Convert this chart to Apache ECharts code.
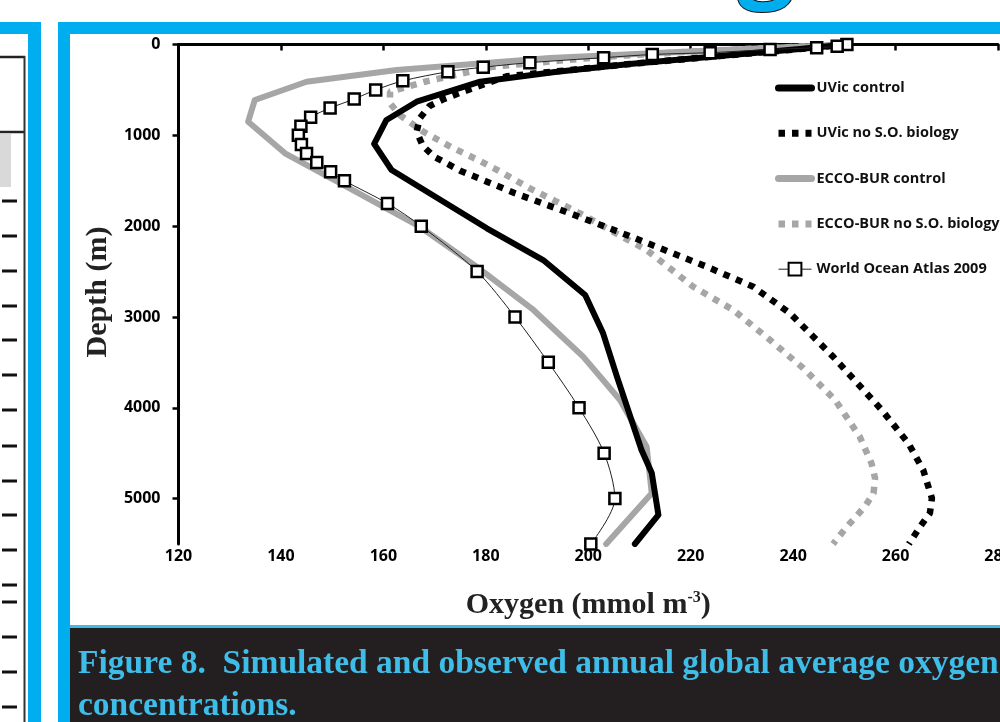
<!DOCTYPE html>
<html>
<head>
<meta charset="utf-8">
<script src="https://cdn.jsdelivr.net/npm/echarts@6/dist/echarts.min.js"></script>
<style>
  html, body { margin: 0; padding: 0; background: #fff; }
  #chart { width: 1000px; height: 722px; }
</style>
</head>
<body>
<div id="chart"></div>
<script>
// oxygen (mmol m-3) against depth (m)
const uvicCtrlO2 = [250.3, 241.3, 225.7, 208.1, 193.5, 178.9, 166.5, 160.6, 158.2, 161.6, 180.2, 191.2, 199.4, 202.9, 205.6, 210.4, 212.4, 213.7, 209.1]
const uvicCtrlDepth = [0, 50, 127, 215, 303, 410, 630, 831, 1095, 1382, 2024, 2373, 2758, 3180, 3658, 4465, 4718, 5180, 5500]

const uvicNoBioO2 = [250.3, 241.3, 225.7, 208.1, 184.1, 175.5, 171.7, 169.0, 167.1, 166.5, 167.7, 169.9, 175.0, 185.7, 196.8, 207.5, 223.1, 232.2, 239.4, 247.8, 257.3, 262.5, 265.4, 267.1, 266.7, 264.8, 262.6]
const uvicNoBioDepth = [0, 50, 127, 215, 350, 520, 603, 677, 813, 960, 1117, 1235, 1389, 1638, 1866, 2097, 2446, 2667, 2960, 3437, 4024, 4391, 4685, 4996, 5161, 5309, 5500]

const eccoCtrlO2 = [250.3, 221.8, 192.5, 162.6, 145.0, 134.9, 133.6, 140.8, 152.8, 167.1, 178.2, 189.3, 199.0, 206.2, 211.4, 212.4, 203.5]
const eccoCtrlDepth = [0, 72, 149, 281, 410, 611, 850, 1198, 1566, 2006, 2446, 2923, 3437, 3914, 4428, 4941, 5500]

const eccoNoBioO2 = [250.3, 221.8, 202.3, 181.4, 168.1, 161.3, 161.3, 163.2, 167.8, 173.3, 178.5, 183.4, 188.6, 193.8, 199.0, 204.2, 211.4, 220.5, 228.3, 235.5, 242.0, 248.2, 253.0, 255.3, 256.0, 255.7, 254.0, 250.5, 247.8]
const eccoNoBioDepth = [0, 72, 138, 244, 410, 520, 647, 776, 960, 1132, 1272, 1418, 1584, 1730, 1877, 2042, 2263, 2667, 2923, 3254, 3565, 3914, 4318, 4611, 4776, 4941, 5089, 5309, 5500]

const woaO2 = [250.5, 248.6, 244.6, 235.5, 223.8, 212.5, 203.0, 188.6, 179.5, 172.6, 163.8, 158.5, 154.3, 149.6, 145.8, 143.9, 143.4, 144.0, 145.0, 147.0, 149.7, 152.4, 160.8, 167.4, 178.3, 185.7, 192.2, 198.2, 203.1, 205.2, 200.5]
const woaDepth = [0, 20, 35, 55, 90, 110, 145, 200, 250, 300, 400, 500, 600, 700, 800, 900, 1000, 1100, 1200, 1300, 1400, 1500, 1750, 2000, 2500, 3000, 3500, 4000, 4500, 5000, 5500]

const seriesNames = ['UVic control', 'UVic no S.O. biology', 'ECCO-BUR control', 'ECCO-BUR no S.O. biology', 'World Ocean Atlas 2009']

const BLUE = '#00aeef'
const GREY = '#a6a6a6'
const SANS = '"Open Sans", "Liberation Sans", sans-serif'
const SERIF = '"Liberation Serif", "DejaVu Serif", serif'

function pairs(o2, depth) {
  return o2.map((v, i) => [v, depth[i]])
}

// ticks of the neighbouring panel on the left
const sideTicks = [201, 236, 271, 306, 340, 375, 410, 446, 481, 515, 550, 585, 602, 637, 672, 707]

const chart = echarts.init(document.getElementById('chart'))

const graphics = [
  // left panel
  { type: 'rect', shape: { x: 0, y: 22, width: 41, height: 12 }, style: { fill: BLUE } },
  { type: 'rect', shape: { x: 28, y: 22, width: 13, height: 700 }, style: { fill: BLUE } },
  { type: 'line', shape: { x1: 0, y1: 57, x2: 25, y2: 57 }, style: { stroke: '#222', lineWidth: 2.5 } },
  { type: 'line', shape: { x1: 0, y1: 132, x2: 25, y2: 132 }, style: { stroke: '#222', lineWidth: 2.5 } },
  { type: 'line', shape: { x1: 24.5, y1: 56, x2: 24.5, y2: 722 }, style: { stroke: '#333', lineWidth: 2 } },
  { type: 'rect', shape: { x: 0, y: 134, width: 11, height: 53 }, style: { fill: '#d9d9d9' } },
  // main panel frame
  { type: 'rect', shape: { x: 58, y: 22, width: 942, height: 12 }, style: { fill: BLUE } },
  { type: 'rect', shape: { x: 58, y: 22, width: 12, height: 700 }, style: { fill: BLUE } },
  // caption box
  { type: 'rect', shape: { x: 70, y: 625, width: 930, height: 3 }, style: { fill: '#3fbbe8' } },
  { type: 'rect', shape: { x: 70, y: 628, width: 930, height: 94 }, style: { fill: '#231f20' } },
  {
    type: 'text', left: 78, top: 647,
    style: { text: 'Figure 8.  Simulated and observed annual global average oxygen', fill: '#3ebde9', font: 'bold 33.5px ' + SERIF }
  },
  {
    type: 'text', left: 78, top: 689,
    style: { text: 'concentrations.', fill: '#3ebde9', font: 'bold 33.5px ' + SERIF }
  },
  // bottom of the big heading letter above the panel
  {
    type: 'text', x: 766, y: -40,
    style: { text: 'g', font: 'bold 100px "Open Sans"', fill: BLUE, stroke: '#111', lineWidth: 2, align: 'center', verticalAlign: 'middle' }
  },
  // axis titles
  {
    type: 'text', x: 98, y: 292, rotation: Math.PI / 2,
    style: { text: 'Depth (m)', font: 'bold 30px ' + SERIF, fill: '#222', align: 'center', verticalAlign: 'middle' }
  }
]
sideTicks.forEach(y => {
  graphics.push({ type: 'line', shape: { x1: 2, y1: y, x2: 17, y2: y }, style: { stroke: '#111', lineWidth: 3 } })
})

const hideSymbol = { opacity: 0 }

chart.setOption({
  backgroundColor: '#fff',
  animation: false,
  graphic: graphics,
  grid: { left: 178.5, right: 2, top: 44.5, bottom: 178, outerBoundsMode: 'none', containLabel: false },
  legend: {
    orient: 'vertical',
    left: 770,
    top: 75,
    itemWidth: 33,
    itemHeight: 16,
    itemGap: 29.3,
    textStyle: { fontFamily: SANS, fontWeight: 'bold', fontSize: 14.5, color: '#111', lineHeight: 16 },
    data: [
      { name: seriesNames[0], lineStyle: { width: 7 }, itemStyle: hideSymbol },
      { name: seriesNames[1], lineStyle: { width: 7 }, itemStyle: hideSymbol },
      { name: seriesNames[2], lineStyle: { width: 7 }, itemStyle: hideSymbol },
      { name: seriesNames[3], lineStyle: { width: 7 }, itemStyle: hideSymbol },
      { name: seriesNames[4], lineStyle: { width: 1 } }
    ]
  },
  xAxis: {
    type: 'value',
    min: 120,
    max: 280,
    interval: 20,
    splitLine: { show: false },
    axisLine: { lineStyle: { color: '#000', width: 3 } },
    axisTick: { length: 6, lineStyle: { color: '#000', width: 2.5 } },
    axisLabel: { color: '#000', fontFamily: SANS, fontWeight: 'bold', fontSize: 16, margin: 4, formatter: v => String(v) },
    name: 'Oxygen (mmol m{sup|-3})',
    nameLocation: 'middle',
    nameGap: 46,
    nameTextStyle: {
      fontFamily: SERIF, fontWeight: 'bold', fontSize: 30, color: '#222',
      rich: { sup: { fontFamily: SERIF, fontWeight: 'bold', fontSize: 16, color: '#222', verticalAlign: 'top', padding: [0, 0, 14, 0] } }
    }
  },
  yAxis: {
    type: 'value',
    inverse: true,
    min: 0,
    max: 5500,
    interval: 1000,
    splitLine: { show: false },
    axisLine: { lineStyle: { color: '#000', width: 3 } },
    axisTick: { length: 6, lineStyle: { color: '#000', width: 2.5 } },
    axisLabel: { color: '#000', fontFamily: SANS, fontWeight: 'bold', fontSize: 16, margin: 18, showMaxLabel: false, formatter: v => String(v) }
  },
  series: [
    {
      name: seriesNames[3], type: 'line', z: 2, symbol: 'none',
      data: pairs(eccoNoBioO2, eccoNoBioDepth),
      lineStyle: { color: GREY, width: 6.5, type: [6.5, 7], cap: 'butt' },
      itemStyle: { color: GREY }
    },
    {
      name: seriesNames[1], type: 'line', z: 3, symbol: 'none',
      data: pairs(uvicNoBioO2, uvicNoBioDepth),
      lineStyle: { color: '#000', width: 6.5, type: [6.5, 7], cap: 'butt' },
      itemStyle: { color: '#000' }
    },
    {
      name: seriesNames[2], type: 'line', z: 4, symbol: 'none',
      data: pairs(eccoCtrlO2, eccoCtrlDepth),
      lineStyle: { color: GREY, width: 6, cap: 'round', join: 'round' },
      itemStyle: { color: GREY }
    },
    {
      name: seriesNames[0], type: 'line', z: 5, symbol: 'none',
      data: pairs(uvicCtrlO2, uvicCtrlDepth),
      lineStyle: { color: '#000', width: 6, cap: 'round', join: 'round' },
      itemStyle: { color: '#000' }
    },
    {
      name: seriesNames[4], type: 'line', z: 6,
      smooth: 0.3,
      symbol: 'rect', symbolSize: 11,
      data: pairs(woaO2, woaDepth),
      lineStyle: { color: '#222', width: 1 },
      itemStyle: { color: '#fff', borderColor: '#000', borderWidth: 2.5 }
    }
  ]
})
</script>
</body>
</html>
